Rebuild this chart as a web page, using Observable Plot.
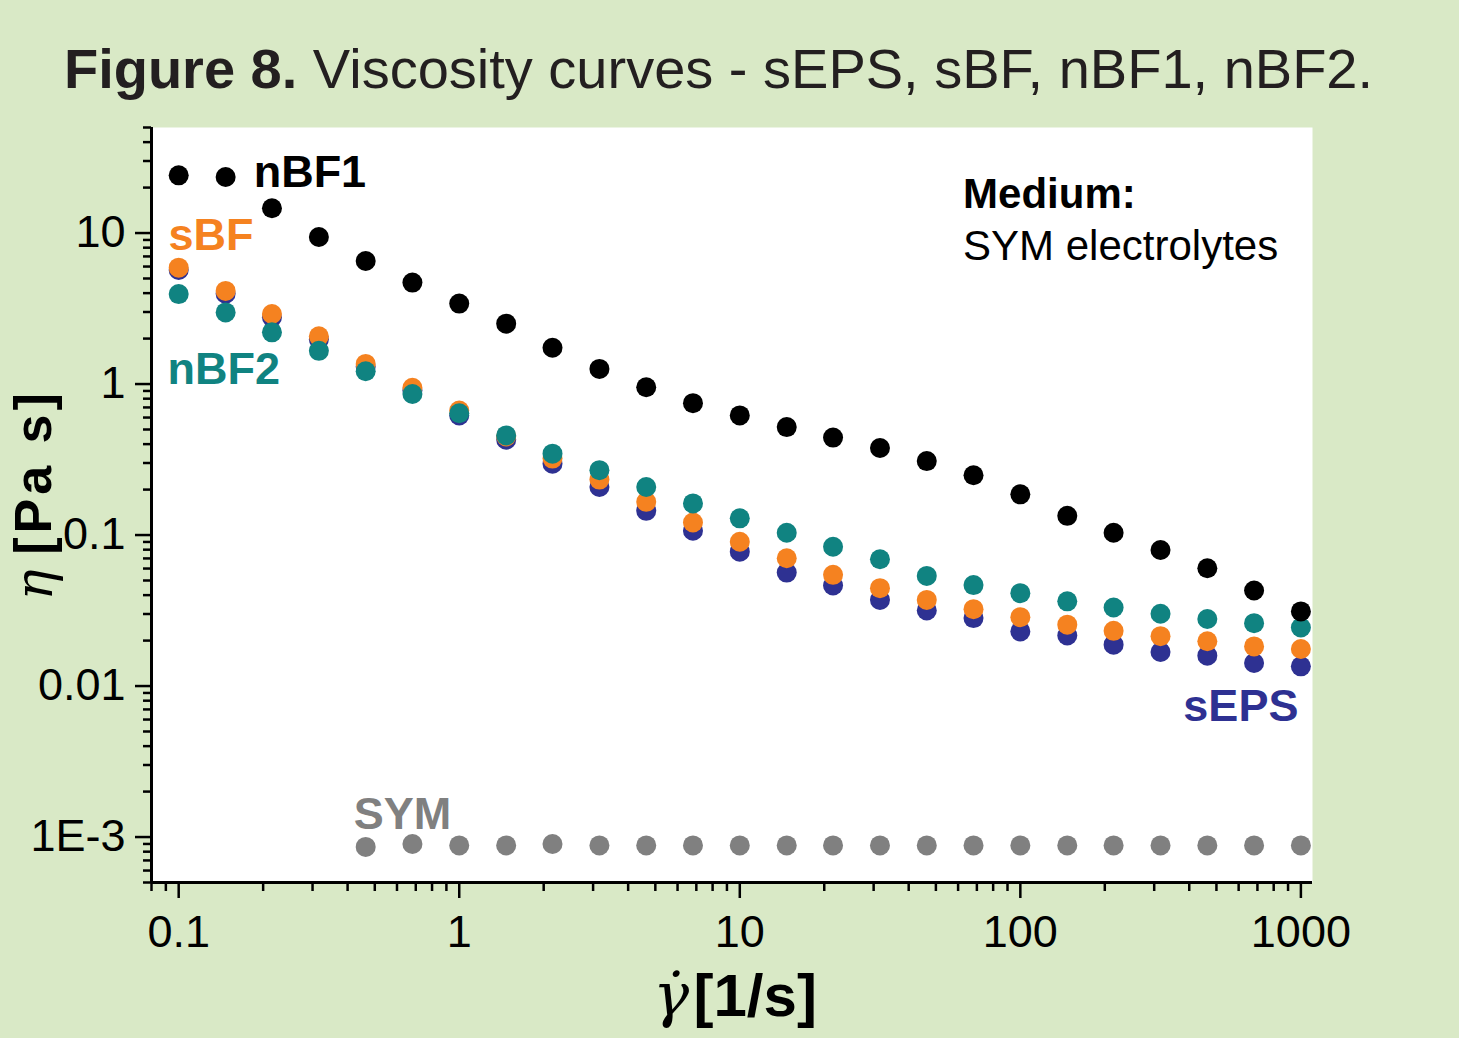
<!DOCTYPE html>
<html><head><meta charset="utf-8">
<script src="https://cdn.jsdelivr.net/npm/d3@7"></script>
<script src="https://cdn.jsdelivr.net/npm/@observablehq/plot@0.6"></script>
<style>
html,body{margin:0;padding:0;background:#d9e9c6;}
#title{height:120px;box-sizing:border-box;padding-top:41px;font:56px/56px "Liberation Sans",Arial,sans-serif;color:#231f20;width:1437px;text-align:center;white-space:nowrap;}
#chart svg{display:block;overflow:visible;}
</style></head><body>
<div id="title"><b>Figure 8.</b> Viscosity curves - sEPS, sBF, nBF1, nBF2.</div>
<div id="chart"></div>
<script>
// shear rate (1/s)
const shearRate = [0.1, 0.147, 0.215, 0.316, 0.464, 0.681, 1, 1.47, 2.15, 3.16, 4.64, 6.81, 10, 14.7, 21.5, 31.6, 46.4, 68.1, 100, 147, 215, 316, 464, 681, 1000];
// viscosity (Pa s)
const sEPS = [5.70, 3.96, 2.77, 1.97, 1.30, 0.906, 0.620, 0.428, 0.297, 0.208, 0.1446, 0.1067, 0.0776, 0.0564, 0.0463, 0.0372, 0.0317, 0.0282, 0.0230, 0.0216, 0.0188, 0.0168, 0.0159, 0.0142, 0.0135];
const sBF = [5.90, 4.14, 2.91, 2.07, 1.36, 0.945, 0.668, 0.450, 0.321, 0.233, 0.166, 0.121, 0.0903, 0.0702, 0.0545, 0.0445, 0.0372, 0.0323, 0.0286, 0.0255, 0.0232, 0.0214, 0.0198, 0.0183, 0.0176];
const nBF2 = [3.94, 2.98, 2.20, 1.66, 1.215, 0.859, 0.641, 0.457, 0.346, 0.269, 0.208, 0.162, 0.129, 0.1035, 0.0837, 0.0691, 0.0536, 0.0466, 0.0412, 0.0364, 0.0331, 0.0301, 0.0278, 0.0261, 0.0244];
const nBF1 = [24.1, 23.5, 14.6, 9.41, 6.53, 4.70, 3.41, 2.51, 1.74, 1.26, 0.953, 0.747, 0.620, 0.519, 0.442, 0.377, 0.309, 0.249, 0.186, 0.134, 0.1035, 0.0796, 0.0603, 0.0429, 0.0312];
const symRate = [0.464, 0.681, 1, 1.47, 2.15, 3.16, 4.64, 6.81, 10, 14.7, 21.5, 31.6, 46.4, 68.1, 100, 147, 215, 316, 464, 681, 1000];
const SYM = [0.00086, 0.00090, 0.00088, 0.00088, 0.00090, 0.00088, 0.00088, 0.00088, 0.00088, 0.00088, 0.00088, 0.00088, 0.00088, 0.00088, 0.00088, 0.00088, 0.00088, 0.00088, 0.00088, 0.00088, 0.00088];

const seriesNames = ["sEPS", "sBF", "nBF2", "nBF1", "SYM"];
const seriesColors = ["#2e3192", "#f58220", "#108381", "#000000", "#808080"];

// axis ticks
const xTicks = [0.1, 1, 10, 100, 1000];
const xTickLabels = ["0.1", "1", "10", "100", "1000"];
const yTicks = [0.001, 0.01, 0.1, 1, 10];
const yTickLabels = ["1E-3", "0.01", "0.1", "1", "10"];

// annotations
const noteText = ["nBF1", "sBF", "nBF2", "sEPS", "SYM", "Medium:", "SYM electrolytes"];
const noteColor = ["#000000", "#f58220", "#108381", "#2e3192", "#808080", "#000000", "#000000"];
const noteX = [0.185, 0.092, 0.0912, 980, 0.4206, 62.5, 62.5];
const noteY = [25.3, 9.55, 1.256, 0.00727, 0.001418, 18.1, 8.08];
const noteAnchor = ["start", "start", "start", "end", "start", "start", "start"];
const noteWeight = ["bold", "bold", "bold", "bold", "bold", "bold", "normal"];
const noteSize = [45, 45, 45, 45, 45, 42, 42];

const seriesValues = [sEPS, sBF, nBF2, nBF1, SYM];
const seriesRates = [shearRate, shearRate, shearRate, shearRate, symRate];
const tables = seriesValues.map((vals, s) => vals.map((v, i) => ({x: seriesRates[s][i], y: v, name: seriesNames[s]})));

const minorOf = (decades, lo, hi) => decades.flatMap(d => [2,3,4,5,6,7,8,9].map(k => +(k * d).toPrecision(6))).filter(v => v >= lo && v <= hi);
const xMinor = minorOf([0.01, 0.1, 1, 10, 100, 1000], 0.0799, 1100);
const yMinor = minorOf([0.0001, 0.001, 0.01, 0.1, 1, 10], 0.000499, 50.01);

const FONT = '"Liberation Sans", Arial, sans-serif';

const marks = [
  Plot.frame({fill: "white", stroke: "none"}),
  ...tables.map((t, s) => Plot.dot(t, {x: "x", y: "y", r: 10, fill: seriesColors[s], stroke: "none"})),
  Plot.ruleX([0.08], {stroke: "black", strokeWidth: 3}),
  Plot.ruleY([0.0005], {stroke: "black", strokeWidth: 3}),
  Plot.axisX({ticks: xTicks, tickSize: 16, tickPadding: 17, strokeWidth: 2.5, fontSize: 45, label: null,
    tickFormat: d => xTickLabels[xTicks.indexOf(d)]}),
  Plot.axisX({ticks: xMinor, tickSize: 9, strokeWidth: 2.5, label: null, tickFormat: () => ""}),
  Plot.axisY({ticks: yTicks, tickSize: 16, tickPadding: 10, strokeWidth: 2.5, fontSize: 45, label: null,
    tickFormat: d => yTickLabels[yTicks.indexOf(d)]}),
  Plot.axisY({ticks: yMinor, tickSize: 8, strokeWidth: 2.5, label: null, tickFormat: () => ""}),
  // axis titles
  Plot.text(["[1/s]"], {text: d => d, frameAnchor: "bottom", dx: -38.5, dy: 133, textAnchor: "start", lineAnchor: "bottom",
    fontSize: 60, fontWeight: "bold", fill: "black"}),
  Plot.text(["\u03B3\u0307"], {text: d => d, frameAnchor: "bottom", dx: -43, dy: 133, textAnchor: "end", lineAnchor: "bottom",
    fontSize: 60, fontStyle: "italic", fontFamily: '"DejaVu Serif", serif', fill: "black"}),
  Plot.text(["[Pa s]"], {text: d => d, frameAnchor: "left", dx: -101, dy: -33, rotate: -90, textAnchor: "middle", lineAnchor: "bottom",
    fontSize: 52, fontWeight: "bold", fill: "black"}),
  Plot.text(["\u03B7"], {text: d => d, frameAnchor: "left", dx: -100, dy: 80, rotate: -90, textAnchor: "middle", lineAnchor: "bottom",
    fontSize: 52, fontStyle: "italic", fontFamily: '"DejaVu Serif", serif', fill: "black"}),
  // annotations
  ...noteText.map((t, i) => Plot.text([{x: noteX[i], y: noteY[i], t}], {x: "x", y: "y", text: "t",
    textAnchor: noteAnchor[i], lineAnchor: "middle", fill: noteColor[i], fontWeight: noteWeight[i], fontSize: noteSize[i]}))
];

const chart = Plot.plot({
  width: 1459,
  height: 918,
  marginLeft: 151,
  marginRight: 147,
  marginTop: 7,
  marginBottom: 156,
  x: {type: "log", domain: [0.08, 1100]},
  y: {type: "log", domain: [0.0005, 50]},
  style: {background: "transparent", fontFamily: FONT, fontSize: "45px", color: "black", overflow: "visible"},
  marks
});
// widen the rotated axis title slightly to match the reference length
d3.select(chart).selectAll("text").filter(function() { return this.textContent === "[Pa s]"; }).attr("letter-spacing", "4px");
document.getElementById("chart").appendChild(chart);
</script>
</body></html>
